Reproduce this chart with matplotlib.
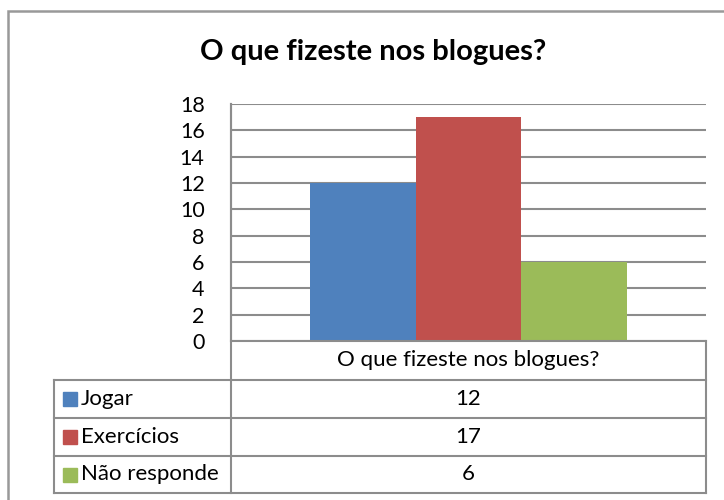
import matplotlib
matplotlib.use("Agg")
import matplotlib.pyplot as plt
from matplotlib.lines import Line2D
from matplotlib.patches import Rectangle
import numpy as np

titulo = 'O que fizeste nos blogues?'
categoria = 'O que fizeste nos blogues?'
series = ['Jogar', 'Exercícios', 'Não responde']
valores = [12, 17, 6]
cores = ['#4F81BD', '#C0504D', '#9BBB59']
yticks = [0, 2, 4, 6, 8, 10, 12, 14, 16, 18]

plt.rcParams['font.family'] = ['Lato', 'DejaVu Sans']

W, H = 724, 500
fig = plt.figure(figsize=(W / 100, H / 100), dpi=100)

def fx(x):
  return x / W

def fy(y):
  return 1 - y / H

gris = '#8C8C8C'

# marco exterior (cortado a la derecha y abajo)
fig.add_artist(Rectangle((fx(8), fy(530)), fx(740), fy(11) - fy(530), transform=fig.transFigure,
                         fill=False, edgecolor='#999999', linewidth=1.8))

fig.text(fx(373), fy(52), titulo, ha='center', va='center', fontsize=21, fontweight='bold')

# area de la grafica
x0, x1, ytop, ybot = 231, 706, 104, 341
ax = fig.add_axes([fx(x0), fy(ybot), fx(x1 - x0), fy(ytop) - fy(ybot)])
ancho = 0.667 / len(series)
pos = np.arange(len(series)) - (len(series) - 1) / 2
for i in range(len(series)):
  ax.bar(pos[i] * ancho, valores[i], ancho, color=cores[i], zorder=3)
ax.set_xlim(-0.5, 0.5)
ax.set_ylim(0, 18)
ax.set_yticks(yticks)
ax.set_yticklabels([str(t) for t in yticks], fontsize=15.5)
ax.set_xticks([])
ax.tick_params(axis='y', length=0, pad=19)
ax.grid(axis='y', color=gris, linewidth=1.5, zorder=0)
for s in ['top', 'right', 'bottom']:
  ax.spines[s].set_visible(False)
ax.spines['left'].set_color(gris)
ax.spines['left'].set_linewidth(1.5)

# tabla de datos
def linea(xa, ya, xb, yb):
  fig.add_artist(Line2D([fx(xa), fx(xb)], [fy(ya), fy(yb)], transform=fig.transFigure,
                        color=gris, linewidth=1.5))

filas = [341, 380, 418, 456, 493]
tx0 = 54
linea(x0, filas[0], x1, filas[0])
for yy in filas[1:]:
  linea(tx0, yy, x1, yy)
linea(x0, ytop, x0, filas[-1])
linea(x1, filas[0], x1, filas[-1])
linea(tx0, filas[1], tx0, filas[-1])

xc = (x0 + x1) / 2
fig.text(fx(xc), fy((filas[0] + filas[1]) / 2), categoria, ha='center', va='center', fontsize=16)
for i in range(len(series)):
  yc = (filas[i + 1] + filas[i + 2]) / 2
  fig.add_artist(Rectangle((fx(63), fy(yc + 7)), fx(14), fy(yc - 7) - fy(yc + 7),
                           transform=fig.transFigure, color=cores[i]))
  fig.text(fx(81), fy(yc), series[i], ha='left', va='center', fontsize=16)
  fig.text(fx(xc), fy(yc), str(valores[i]), ha='center', va='center', fontsize=16)

fig.savefig('out.png', dpi=100)
